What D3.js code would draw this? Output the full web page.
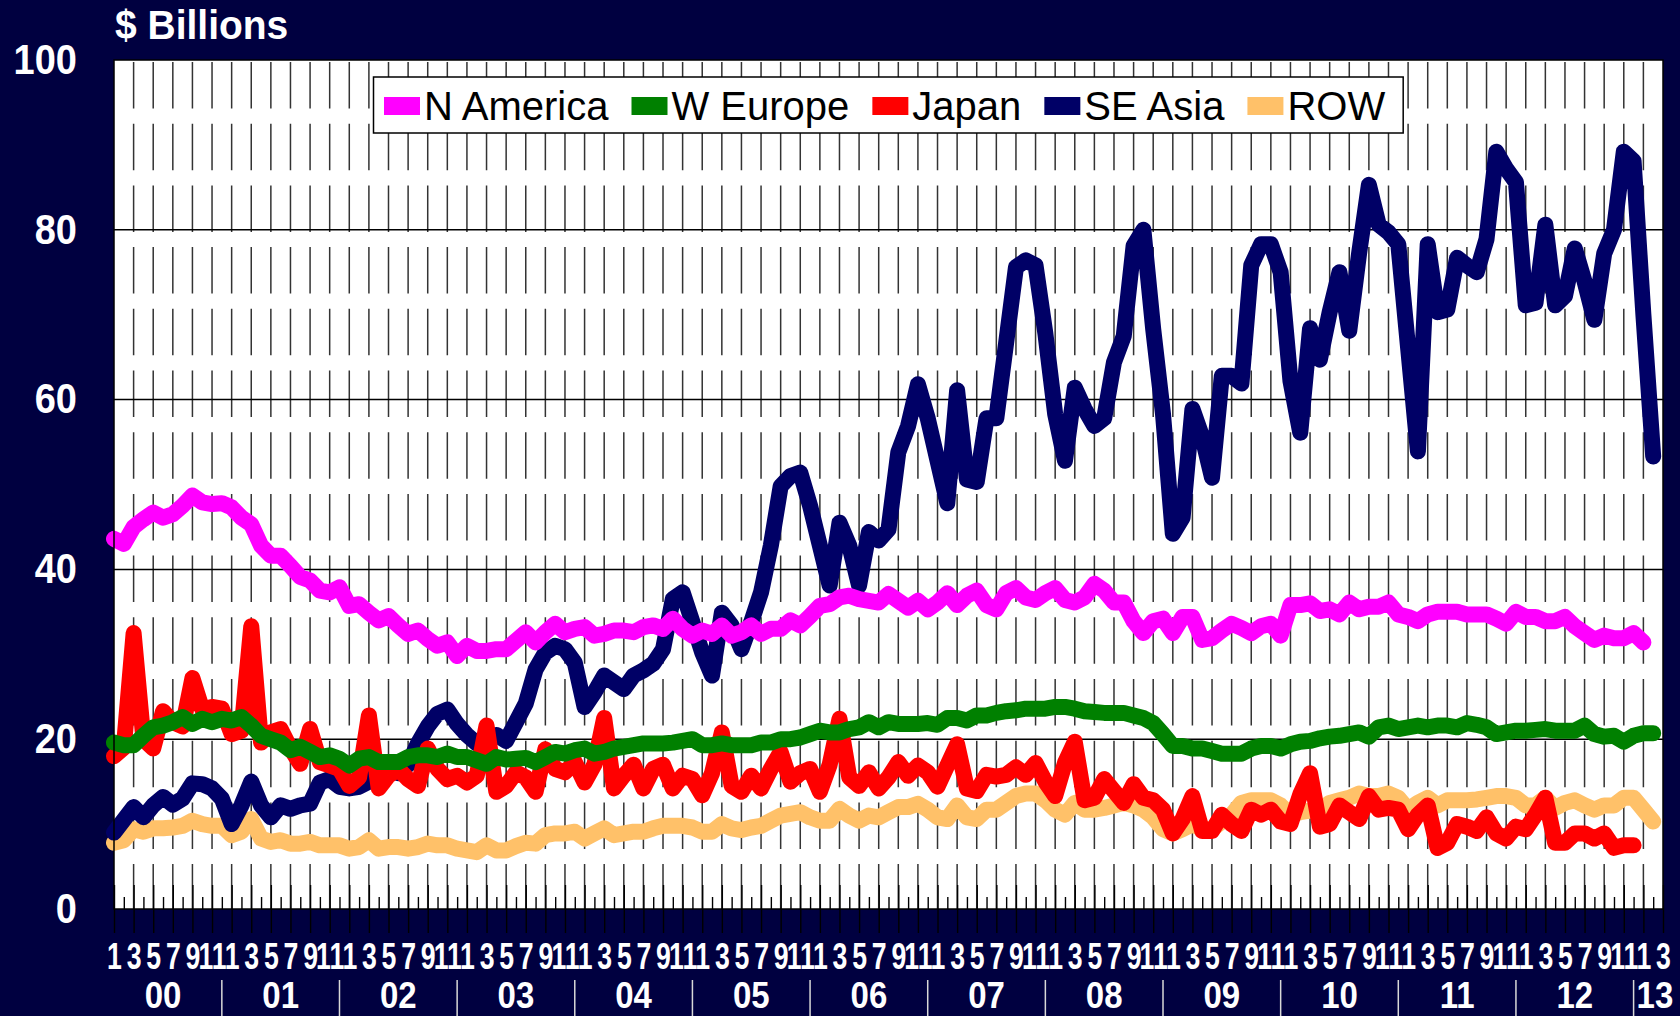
<!DOCTYPE html>
<html><head><meta charset="utf-8">
<script src="https://cdn.jsdelivr.net/npm/d3@7"></script>
<style>
html,body{margin:0;padding:0;background:#000040;}
svg{display:block;}
</style></head><body>
<svg id="chart" width="1680" height="1016"></svg>
<script>
// ---------- DATA ----------
const yearLabels = ["00","01","02","03","04","05","06","07","08","09","10","11","12","13"];
const monthsInYear = [12,12,12,12,12,12,12,12,12,12,12,12,12,3];
const categories = [];
yearLabels.forEach((yy, k) => { for (let m = 1; m <= monthsInYear[k]; m++) categories.push({year: yy, month: m}); });
const yTicks = [0, 20, 40, 60, 80, 100];
const seriesNames = ["N America", "W Europe", "Japan", "SE Asia", "ROW"];
const seriesColors = ["#FF00FF", "#008000", "#FF0000", "#000066", "#FFC169"];

const nAmerica = [43.6,43.0,45.0,45.9,46.7,46.1,46.5,47.5,48.7,47.9,
 47.7,47.8,47.3,46.1,45.3,42.8,41.6,41.6,40.4,39.1,
 38.7,37.5,37.3,37.9,35.7,35.9,34.9,34.0,34.5,33.4,
 32.4,32.8,31.8,31.0,31.4,29.8,31.0,30.4,30.4,30.6,
 30.6,31.6,32.6,31.4,32.6,33.6,32.6,33.0,33.2,32.2,
 32.4,32.8,32.8,32.6,33.2,33.4,33.0,34.2,33.0,32.2,
 32.8,32.4,33.4,32.2,32.6,33.4,32.4,33.0,33.0,34.0,
 33.4,34.5,35.7,35.9,36.7,36.9,36.5,36.3,36.1,37.1,
 36.3,35.5,36.3,35.3,36.1,37.2,35.8,36.9,37.5,35.8,
 35.3,37.2,37.8,36.7,36.4,37.2,37.8,36.4,36.1,36.7,
 38.3,37.5,36.1,36.1,33.9,32.5,33.9,34.2,32.5,34.4,
 34.4,31.7,31.9,32.8,33.6,33.1,32.5,33.3,33.6,32.2,
 35.8,35.8,36.0,35.1,35.3,34.7,36.1,35.3,35.6,35.6,
 36.1,34.7,34.4,33.9,34.7,35.0,35.0,35.0,34.7,34.7,
 34.7,34.2,33.6,35.0,34.4,34.4,33.9,33.9,34.4,33.3,
 32.5,31.7,32.2,31.9,31.9,32.5,31.4];

const wEurope = [19.6,19.3,19.3,20.4,21.4,21.6,22.0,22.6,21.8,22.4,
 22.0,22.4,22.2,22.6,21.6,20.4,20.0,19.6,18.7,19.1,
 18.5,17.9,18.1,17.7,16.9,17.7,17.9,17.3,17.3,17.3,
 17.9,18.1,18.1,17.9,18.3,17.9,17.9,17.5,17.1,17.9,
 17.6,17.7,17.8,17.3,17.9,18.5,18.3,18.7,18.9,18.3,
 18.5,18.9,19.1,19.3,19.5,19.5,19.5,19.6,19.8,20.0,
 19.3,19.3,19.5,19.3,19.3,19.3,19.6,19.6,20.0,20.0,
 20.2,20.6,21.0,20.8,20.8,21.2,21.4,22.0,21.4,22.0,
 21.8,21.8,21.8,21.9,21.7,22.5,22.5,22.2,22.8,22.8,
 23.1,23.3,23.4,23.6,23.6,23.6,23.8,23.8,23.6,23.3,
 23.2,23.1,23.1,23.1,22.8,22.5,21.9,20.6,19.2,19.2,
 18.9,18.9,18.6,18.3,18.3,18.3,18.9,19.2,19.2,18.9,
 19.4,19.7,19.8,20.1,20.3,20.4,20.6,20.8,20.3,21.4,
 21.6,21.2,21.4,21.6,21.4,21.6,21.6,21.4,21.9,21.7,
 21.4,20.6,20.8,21.0,21.0,21.1,21.2,21.0,21.0,21.0,
 21.6,20.6,20.3,20.4,19.7,20.4,20.7,20.7];

const japan = [18.0,19.0,32.5,20.0,18.9,23.3,22.0,21.5,27.2,23.5,
 23.8,23.6,20.6,21.0,33.3,19.6,20.8,21.2,18.9,17.1,
 21.2,17.3,16.9,16.5,14.5,15.5,22.8,14.2,15.7,16.5,
 15.3,14.5,18.9,16.5,15.3,15.7,14.9,15.7,21.6,13.8,
 14.5,16.1,15.5,13.8,18.8,16.5,16.1,17.3,14.9,17.0,
 22.5,14.2,15.7,17.0,14.2,16.5,17.0,14.2,15.7,15.3,
 13.4,16.0,20.8,14.5,13.8,15.7,14.2,16.5,18.5,15.0,
 16.0,16.5,13.8,17.0,22.4,15.5,14.5,16.1,14.2,15.5,
 17.3,15.7,16.9,16.1,14.4,16.9,19.4,14.2,13.9,15.8,
 15.6,15.8,16.7,15.8,17.2,15.0,13.3,17.2,19.7,12.8,
 13.1,15.3,13.9,12.5,14.7,13.1,12.8,11.7,8.9,10.6,
 13.3,9.2,9.2,11.1,10.0,9.2,11.7,11.1,11.7,10.3,
 10.0,13.5,16.0,9.7,10.0,12.2,11.4,10.6,13.3,11.7,
 11.9,11.7,9.4,11.1,12.2,7.2,7.8,10.0,9.7,9.2,
 10.8,8.9,8.3,9.7,9.4,11.1,13.1,7.8,7.8,8.9,
 8.9,8.3,8.9,7.2,7.5,7.5];

const seAsia = [9.0,10.5,12.0,10.8,12.2,13.2,12.3,13.0,14.8,14.7,
 14.2,13.0,10.0,12.2,15.0,12.2,10.8,12.2,11.8,12.2,
 12.4,14.9,15.3,14.4,14.2,14.4,15.0,16.0,16.5,16.0,
 17.0,19.5,21.5,23.0,23.5,21.8,20.5,19.5,20.0,20.5,
 19.8,22.0,24.2,28.2,30.2,31.0,30.6,29.0,23.8,25.5,
 27.5,26.7,25.9,27.5,28.1,28.9,30.6,36.5,37.3,33.8,
 30.2,27.5,34.9,33.4,30.6,33.8,37.3,42.8,49.8,51.0,
 51.4,47.5,42.8,38.1,45.5,42.8,38.1,44.4,43.4,44.7,
 53.8,56.9,61.8,57.8,52.8,47.8,61.1,50.6,50.3,57.8,
 57.8,66.7,75.6,76.4,75.8,67.8,58.3,52.8,61.4,58.9,
 56.9,57.8,64.4,67.5,78.1,80.0,68.3,58.3,44.2,46.1,
 58.9,55.6,50.8,62.8,62.8,61.9,75.8,78.3,78.3,75.0,
 62.2,56.1,68.4,64.7,70.3,75.0,68.1,77.2,85.3,80.6,
 79.7,78.3,66.1,53.9,78.3,70.3,70.6,76.7,75.8,75.0,
 78.9,89.2,87.2,85.6,71.1,71.4,80.6,71.1,72.2,77.8,
 73.9,69.4,77.2,80.0,89.2,88.1,70.0,53.3];

const row = [7.8,8.1,9.4,9.1,9.5,9.5,9.6,9.8,10.4,10.0,
 9.8,9.8,8.7,9.1,10.6,8.3,7.9,8.1,7.7,7.7,
 7.9,7.5,7.5,7.5,7.1,7.3,8.1,7.1,7.3,7.3,
 7.1,7.3,7.7,7.5,7.5,7.1,6.9,6.7,7.5,6.9,
 6.9,7.4,7.8,7.7,8.7,8.9,8.9,9.1,8.3,8.9,
 9.5,8.7,8.9,9.1,9.1,9.5,9.8,9.8,9.8,9.6,
 9.1,9.1,10.0,9.5,9.3,9.6,9.8,10.4,11.0,11.2,
 11.4,10.8,10.4,10.4,11.8,11.0,10.4,11.0,10.8,11.4,
 12.0,12.0,12.4,11.7,10.8,10.6,12.2,10.8,10.6,11.7,
 11.7,12.5,13.3,13.6,13.6,12.8,11.7,11.1,12.5,11.7,
 11.7,11.9,12.2,12.5,12.2,11.7,10.8,9.4,8.9,9.4,
 10.0,9.4,9.4,10.3,11.1,12.5,12.8,12.8,12.8,12.2,
 11.1,11.4,11.6,11.6,12.5,12.8,13.1,13.6,13.3,13.3,
 13.6,13.1,11.7,12.5,13.1,12.2,12.8,12.8,12.8,12.9,
 13.1,13.3,13.3,13.1,12.2,12.2,13.1,11.9,12.5,12.8,
 12.2,11.7,12.2,12.2,13.1,13.1,11.7,10.3];

const seriesValues = [nAmerica, wEurope, japan, seAsia, row];

// ---------- LAYOUT ----------
const FONT = "'Liberation Sans', Arial, Helvetica, sans-serif";
const L = 114, R = 1663, T = 60, B = 909;
const svg = d3.select("#chart");
svg.append("rect").attr("width", 1680).attr("height", 1016).attr("fill", "#000040");

const x = d3.scaleLinear().domain([0, categories.length - 1]).range([L, R]);
const y = d3.scaleLinear().domain([0, 100]).range([B, T]);

const idx = d3.range(categories.length);
const evenIdx = idx.filter(i => i % 2 === 0);
const oddIdx = idx.filter(i => i % 2 === 1);

// plot area
svg.append("rect").attr("x", L).attr("y", T).attr("width", R - L).attr("height", B - T)
  .attr("fill", "#ffffff");

// vertical dashed gridlines
svg.append("g").selectAll("line").data(evenIdx.filter(i => i > 0 && i < categories.length - 1)).join("line")
  .attr("x1", d => x(d)).attr("x2", d => x(d)).attr("y1", T + 2).attr("y2", B)
  .attr("stroke", "#333").attr("stroke-width", 1.5).attr("stroke-dasharray", "46.5 15.2");

// horizontal gridlines
svg.append("g").selectAll("line").data(yTicks.filter(v => v > 0 && v < 100)).join("line")
  .attr("x1", L).attr("x2", R).attr("y1", d => y(d)).attr("y2", d => y(d))
  .attr("stroke", "#000").attr("stroke-width", 1.5);

// tick marks on category axis
const tickG = svg.append("g").attr("transform", `translate(0,${B})`);
tickG.append("g").call(d3.axisBottom(x).tickValues(evenIdx).tickSize(24).tickFormat(""))
  .call(g => g.select(".domain").remove());
tickG.append("g").call(d3.axisBottom(x).tickValues(evenIdx).tickSize(-24).tickFormat(""))
  .call(g => g.select(".domain").remove());
tickG.append("g").call(d3.axisBottom(x).tickValues(oddIdx).tickSize(-12).tickFormat(""))
  .call(g => g.select(".domain").remove());
tickG.selectAll(".tick line").attr("stroke", "#000").attr("stroke-width", 1.4);

// series lines (ROW drawn first, N America last)
const line = d3.line().x((d, i) => x(i)).y(d => y(d));
const drawOrder = [4, 3, 2, 1, 0];
svg.append("g").selectAll("path").data(drawOrder).join("path")
  .attr("d", k => line(seriesValues[k]))
  .attr("fill", "none").attr("stroke", k => seriesColors[k])
  .attr("stroke-width", 16).attr("stroke-linejoin", "round").attr("stroke-linecap", "round");

// plot border
svg.append("rect").attr("x", L).attr("y", T).attr("width", R - L).attr("height", B - T)
  .attr("fill", "none").attr("stroke", "#000").attr("stroke-width", 1.5);

// y axis labels
const yAxisG = svg.append("g").attr("transform", `translate(${L},0)`)
  .call(d3.axisLeft(y).tickValues(yTicks).tickSize(0).tickPadding(37).tickFormat(d3.format("d")));
yAxisG.select(".domain").remove();
yAxisG.selectAll("text").attr("fill", "#fff").style("font-family", FONT)
  .style("font-size", "38px").style("font-weight", "bold")
  .attr("transform", "scale(1,1.1)");

// month labels
const xAxisG = svg.append("g").attr("transform", `translate(0,${B})`)
  .call(d3.axisBottom(x).tickValues(evenIdx).tickSize(0).tickPadding(0)
    .tickFormat(i => String(categories[i].month)));
xAxisG.select(".domain").remove();
xAxisG.selectAll("text").attr("fill", "#fff").style("font-family", FONT)
  .style("font-size", "36px").style("font-weight", "bold")
  .attr("y", 0).attr("dy", null)
  .attr("transform", "translate(0,60) scale(0.74,1.05)");

// year separators and labels
const yearEnds = [];
let acc = 0;
monthsInYear.forEach(n => { acc += n; yearEnds.push(acc - 1); });
const sepIdx = yearEnds.slice(0, -1);
svg.append("g").selectAll("line").data(sepIdx).join("line")
  .attr("x1", d => x(d)).attr("x2", d => x(d)).attr("y1", 980).attr("y2", 1016)
  .attr("stroke", "#d8d8d8").attr("stroke-width", 1.5);
const lastK = yearLabels.length - 1;
svg.append("g").selectAll("text").data(yearLabels).join("text")
  .attr("transform", (d, k) => {
    const end = yearEnds[k];
    const start = end - monthsInYear[k];
    const cxp = k === lastK ? x(start) + 3 : (x(start) + x(end)) / 2;
    return `translate(${cxp},1008) scale(1,1.1)`;
  })
  .attr("text-anchor", (d, k) => k === lastK ? "start" : "middle").attr("fill", "#fff")
  .style("font-family", FONT).style("font-size", "33px").style("font-weight", "bold")
  .text(d => d);

// title
svg.append("text").attr("transform", "translate(115,39) scale(1,1.05)").attr("fill", "#fff")
  .style("font-family", FONT).style("font-size", "39px").style("font-weight", "bold")
  .text("$ Billions");

// legend
const legG = svg.append("g");
const legBox = legG.append("rect").attr("y", 77).attr("height", 56).attr("fill", "#fff")
  .attr("stroke", "#000").attr("stroke-width", 1.5);
let cx = 384;
seriesNames.forEach((name, k) => {
  legG.append("rect").attr("x", cx).attr("y", 97).attr("width", 36).attr("height", 18)
    .attr("fill", seriesColors[k]);
  const t = legG.append("text").attr("x", cx + 40).attr("y", 120).attr("fill", "#000")
    .style("font-family", FONT).style("font-size", "40px").text(name);
  const w = t.node().getComputedTextLength();
  cx = cx + 40 + w + 23;
});
legBox.attr("x", 373.5).attr("width", cx - 23 + 18 - 373.5);
</script>
</body></html>
